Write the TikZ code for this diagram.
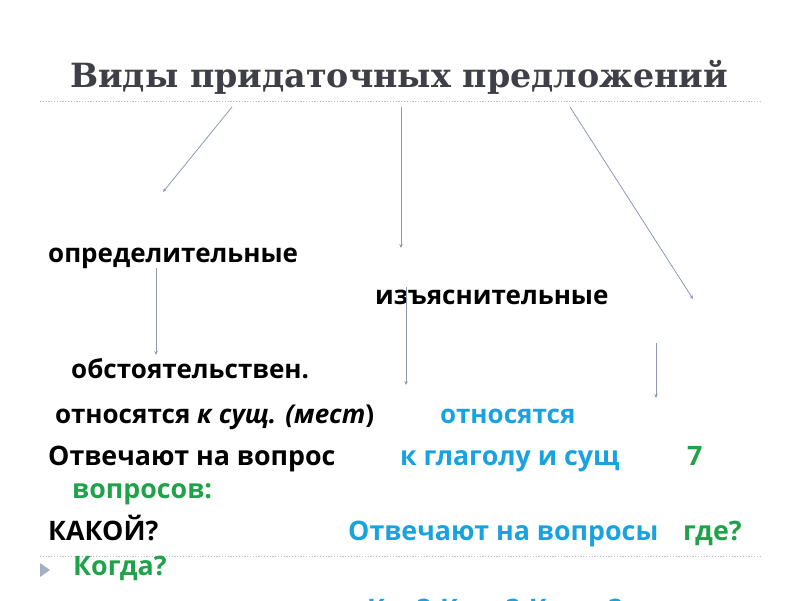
\documentclass[tikz,border=0pt]{standalone}
\usepackage{fontspec}
\setmainfont{Open Sans}
\newfontfamily\titlefont{DejaVu Serif}
\newfontfamily\widefont{Open Sans}
\usetikzlibrary{arrows.meta}
\definecolor{titlegray}{HTML}{3F3F48}
\definecolor{arrowcol}{HTML}{8E98B6}
\definecolor{dotcol}{HTML}{B4BECC}
\definecolor{tricol}{HTML}{A3B0C6}
\definecolor{bluetxt}{HTML}{18A2E0}
\definecolor{greentxt}{HTML}{20A24A}
\tikzset{
  arr/.style={draw=arrowcol, line width=0.8pt, -{Stealth[length=4pt,width=3.5pt]}},
  dotline/.style={draw=dotcol, line width=1pt, dash pattern=on 1.2pt off 1.6pt},
  wide/.style={anchor=base west, inner sep=0pt, font=\widefont\bfseries\fontsize{26}{30}\selectfont},
  lower/.style={anchor=base west, inner sep=0pt, font=\widefont\bfseries\fontsize{26.8}{30}\selectfont},
  blk/.style={text=black},
  blu/.style={text=bluetxt},
  grn/.style={text=greentxt},
}
\begin{document}
\begin{tikzpicture}[x=1pt,y=-1pt]
\useasboundingbox (0,0) rectangle (800,600);
% title
\node[inner sep=0pt, text=titlegray, font=\titlefont\bfseries\fontsize{33.3}{38}\selectfont] (title) at (399,77) {Виды придаточных предложений};
\draw[dotline] (40,101) -- (760,101);
\draw[dotline] (40,556) -- (760,556);
% texts
\node[wide,blk] (opr) at (48,262) {определительные};
\node[wide,blk] (izj) at (375,304) {изъяснительные};
\node[wide,blk] (obs) at (71,378) {обстоятельствен.};
\node[wide,blk] (otn1) at (55,423) {относятся \textit{к сущ. (мест})};
\node[wide,blu] (otn2) at (440,423) {относятся};
\node[lower,blk] (otv1) at (48,465) {Отвечают на вопрос};
\node[lower,blu] (kgl) at (400,465) {к глаголу и сущ};
\node[lower,grn] (seven) at (687,465) {7};
\node[lower,grn] (vopr) at (72,498) {вопросов:};
\node[lower,blk] (kakoy) at (48,540) {КАКОЙ?};
\node[lower,blu] (otv2) at (348,540) {Отвечают на вопросы};
\node[lower,grn] (gde) at (683,540) {где?};
\node[lower,grn] (kogda) at (73,575) {Когда?};
\node[lower,blu] (kak) at (367,618) {Как? Куда? Когда?};
% bullet triangle
\fill[tricol] (40,563) -- (50,570) -- (40,577) -- cycle;
% arrow coordinates
\coordinate (a1s) at (232,107); \coordinate (a1e) at (163,192);
\coordinate (a2s) at (401,107); \coordinate (a2e) at (401,248);
\coordinate (a3s) at (570,107); \coordinate (a3e) at (693,299);
\coordinate (a4s) at (156,268); \coordinate (a4e) at (156,355);
\coordinate (a5s) at (406,287); \coordinate (a5e) at (406,385);
\coordinate (a6s) at (656,343); \coordinate (a6e) at (656,398);
\draw[arr] (a1s) -- (a1e);
\draw[arr] (a2s) -- (a2e);
\draw[arr] (a3s) -- (a3e);
\draw[arr] (a4s) -- (a4e);
\draw[arr] (a5s) -- (a5e);
\draw[arr] (a6s) -- (a6e);
\end{tikzpicture}
\end{document}
